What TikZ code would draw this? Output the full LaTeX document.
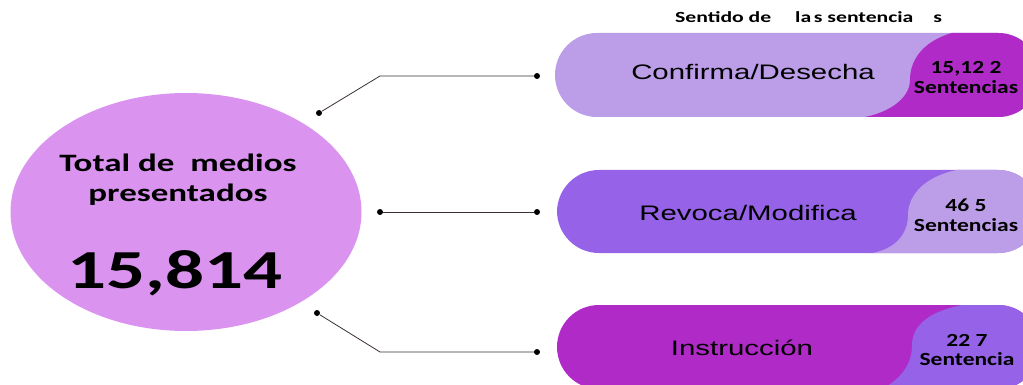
\documentclass[tikz,border=0pt]{standalone}
\usepackage{fontspec}
\usepackage{xcolor}
\usetikzlibrary{shapes.geometric}
\newfontfamily\pillfont[FakeStretch=1.4]{Liberation Sans}
\newfontfamily\numfont[FakeStretch=1.4]{Carlito}
\newfontfamily\cantfont[FakeStretch=1.27]{Carlito}
\definecolor{lila}{HTML}{BC9DE7}
\definecolor{violeta}{HTML}{9562E8}
\definecolor{morado}{HTML}{B02AC7}
\definecolor{rosa}{HTML}{DA93EE}
\definecolor{trazo}{HTML}{3A3030}
\tikzset{
	pill/.style={rounded corners=42pt},
	linea/.style={draw=trazo, line width=0.8pt},
	punto/.style={circle, fill=black, inner sep=0pt, minimum size=6pt},
	ptxt/.style={font={\pillfont\fontsize{21}{25}\selectfont}, inner sep=0pt},
	stxt/.style={font={\cantfont\bfseries\fontsize{18.5}{20}\selectfont}, align=center, inner sep=0pt},
	htxt/.style={font={\numfont\bfseries\fontsize{15.5}{18}\selectfont}, inner sep=0pt},
	ttxt/.style={font={\numfont\bfseries\fontsize{25}{30}\selectfont}, align=center, inner sep=0pt},
	ntxt/.style={font={\numfont\bfseries\fontsize{55}{60}\selectfont}, inner sep=0pt}
}
\begin{document}
\begin{tikzpicture}[x=1pt, y=-1pt]
				\useasboundingbox (0,0) rectangle (1023,385);
				\node[ellipse, fill=rosa, minimum width=351pt, minimum height=238pt] (Total) at (186,212) {};
				\node[ttxt] (TotT) at (178,180) {Total de\ \ medios\\presentados};
				\node[ntxt] (TotN) at (175,273) {15,814};
				\node[htxt, anchor=base west] (Tit) at (675,23) {Sentido de\hspace{19pt} la\,s sentencia\hspace{15pt} s};
				\fill[lila, pill] (555,33) rectangle (1040,117);
				\begin{scope}
					\clip[pill] (555,33) rectangle (1040,117);
					\fill[morado] (955,32) .. controls (925,40) and (910,58) .. (910,80) .. controls (910,100) and (885,115) .. (858,118) -- (1040,118) -- (1040,32) -- cycle;
				\end{scope}
				\fill[violeta, pill] (557,170) rectangle (1040,253);
				\begin{scope}
					\clip[pill] (557,170) rectangle (1040,253);
					\fill[lila] (962,169) .. controls (925,175) and (908,195) .. (908,215) .. controls (908,238) and (890,252) .. (865,254) -- (1040,254) -- (1040,169) -- cycle;
				\end{scope}
				\fill[morado, pill] (557,305) rectangle (1040,389);
				\begin{scope}
					\clip[pill] (557,305) rectangle (1040,389);
					\fill[violeta] (968,304) .. controls (930,310) and (912,325) .. (912,345) .. controls (912,365) and (900,380) .. (880,390) -- (1040,390) -- (1040,304) -- cycle;
				\end{scope}
				\node[ptxt] (Conf) at (753,72) {Confirma/Desecha};
				\node[ptxt] (Revo) at (748,213) {Revoca/Modifica};
				\node[ptxt] (Inst) at (742,348) {Instrucción};
				\node[stxt] (ConfN) at (966,78) {15,12 2\\Sentencias};
				\node[stxt] (RevoN) at (966,215) {46 5\\Sentencias};
				\node[stxt] (InstN) at (967,350) {22 7\\Sentencia};
				\node[punto] (D1) at (319,113) {};
				\coordinate (E1) at (380,76);
				\node[punto] (F1) at (537,76) {};
				\node[punto] (D2) at (380,212) {};
				\node[punto] (F2) at (537,212) {};
				\node[punto] (D3) at (317,313) {};
				\coordinate (E3) at (380,352);
				\node[punto] (F3) at (537,352) {};
				\draw[linea] (D1) -- (E1) -- (F1);
				\draw[linea] (D2) -- (F2);
				\draw[linea] (D3) -- (E3) -- (F3);
			\end{tikzpicture}
\end{document}
